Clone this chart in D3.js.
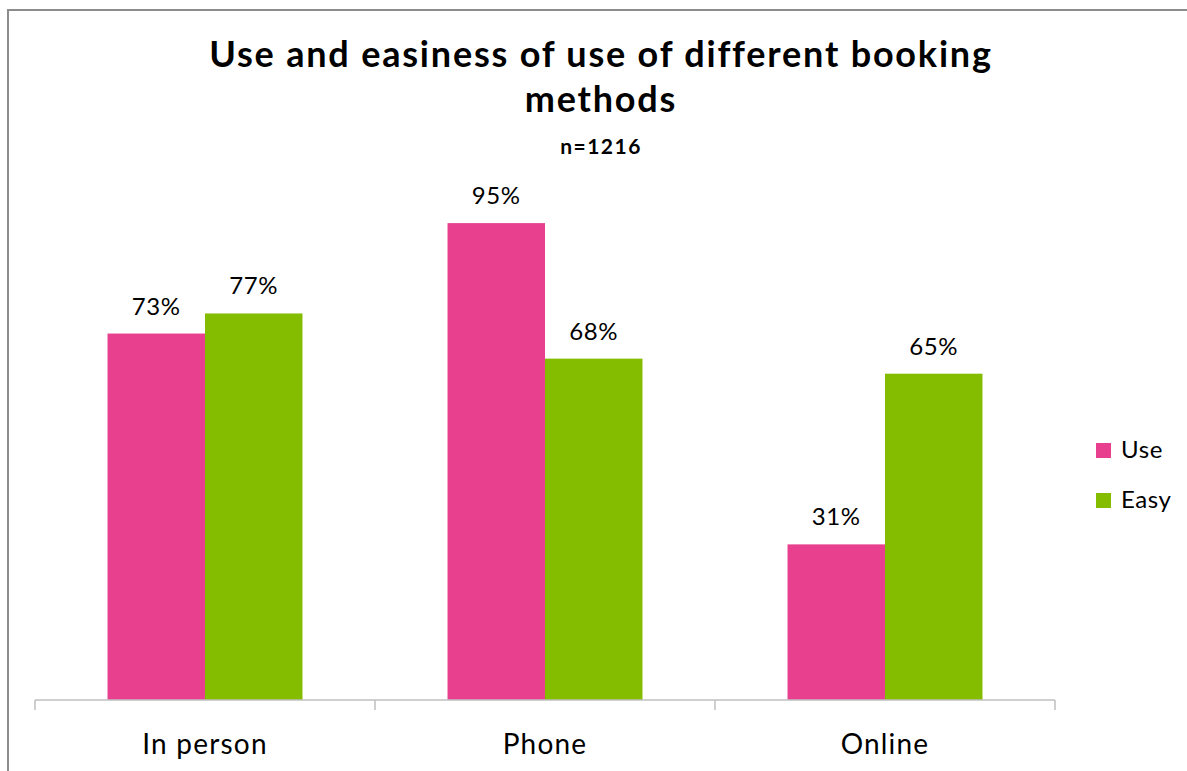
<!DOCTYPE html>
<html>
<head>
<meta charset="utf-8">
<script src="https://cdn.jsdelivr.net/npm/d3@7"></script>
<style>
  html, body { margin: 0; padding: 0; background: #fff; }
  svg { display: block; }
  text { font-family: Lato, "Open Sans", sans-serif; fill: #000; }
</style>
</head>
<body>
<svg id="chart" width="1187" height="771"></svg>
<script>
// Booking methods survey: share who used each method and share who found it easy
const categories = ["In person", "Phone", "Online"];
const seriesNames = ["Use", "Easy"];
const useValues = [73, 95, 31];
const easyValues = [77, 68, 65];
const seriesColors = ["#E8408F", "#84BD00"];
const titleLines = ["Use and easiness of use of different booking", "methods"];
const subtitle = "n=1216";

const svg = d3.select("#chart");
const W = 1187, H = 771;

// chart frame
svg.append("path")
  .attr("d", `M8,${H} L8,10 L${W},10`)
  .attr("fill", "none")
  .attr("stroke", "#8c8c8c")
  .attr("stroke-width", 2);

const rows = categories.map((c, i) => ({ cat: c, values: [useValues[i], easyValues[i]] }));

const x0 = d3.scaleBand().domain(categories).range([35, 1055]).paddingInner(0).paddingOuter(0);
const x1 = d3.scaleBand().domain(seriesNames).range([0, x0.bandwidth()]).paddingInner(0).paddingOuter(0.744);
const y = d3.scaleLinear().domain([0, 100]).range([700, 198]);
const color = d3.scaleOrdinal().domain(seriesNames).range(seriesColors);

// title
svg.append("text")
  .attr("x", 601).attr("text-anchor", "middle")
  .style("font-weight", "bold").style("font-size", "36px").style("letter-spacing", "1.8px")
  .selectAll("tspan").data(titleLines).join("tspan")
  .attr("x", 601)
  .attr("y", (d, i) => 67 + i * 45)
  .text(d => d);

svg.append("text")
  .attr("x", 601).attr("y", 154).attr("text-anchor", "middle")
  .style("font-weight", "bold").style("font-size", "21px").style("letter-spacing", "1.5px")
  .text(subtitle);

// bars
const groups = svg.append("g").selectAll("g").data(rows).join("g")
  .attr("transform", d => `translate(${x0(d.cat)},0)`);

groups.selectAll("rect")
  .data(d => d.values.map((v, i) => ({ key: seriesNames[i], value: v })))
  .join("rect")
  .attr("x", d => x1(d.key))
  .attr("y", d => y(d.value))
  .attr("width", x1.bandwidth())
  .attr("height", d => y(0) - y(d.value))
  .attr("fill", d => color(d.key));

groups.selectAll("text.lbl")
  .data(d => d.values.map((v, i) => ({ key: seriesNames[i], value: v })))
  .join("text")
  .attr("class", "lbl")
  .attr("x", d => x1(d.key) + x1.bandwidth() / 2)
  .attr("y", d => y(d.value) - 19)
  .attr("text-anchor", "middle")
  .style("font-size", "24px").style("letter-spacing", "0.6px")
  .text(d => d.value + "%");

// category axis
const axis = svg.append("g").attr("transform", `translate(0,${y(0)})`);
axis.append("line")
  .attr("x1", x0.range()[0]).attr("x2", x0.range()[1])
  .attr("stroke", "#bfbfbf").attr("stroke-width", 1.5);

const bounds = categories.map(c => x0(c)).concat([x0.range()[1]]);
axis.selectAll("line.tick").data(bounds).join("line")
  .attr("class", "tick")
  .attr("x1", d => d).attr("x2", d => d)
  .attr("y1", 0).attr("y2", 10)
  .attr("stroke", "#bfbfbf").attr("stroke-width", 1.5);

axis.selectAll("text").data(categories).join("text")
  .attr("x", d => x0(d) + x0.bandwidth() / 2)
  .attr("y", 54)
  .attr("text-anchor", "middle")
  .style("font-size", "28px").style("letter-spacing", "1.2px")
  .text(d => d);

// legend
const legend = svg.append("g").attr("transform", "translate(1096,443)");
const items = legend.selectAll("g").data(seriesNames).join("g")
  .attr("transform", (d, i) => `translate(0,${i * 50})`);
items.append("rect").attr("width", 15).attr("height", 15).attr("fill", d => color(d));
items.append("text").attr("x", 25).attr("y", 15)
  .style("font-size", "24px").style("letter-spacing", "0.6px")
  .text(d => d);
</script>
</body>
</html>
